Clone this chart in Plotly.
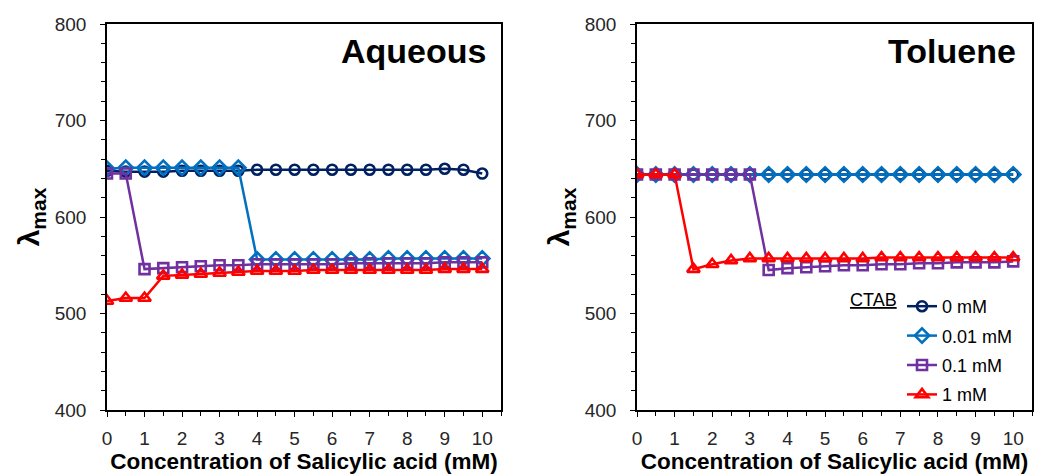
import plotly.graph_objects as go

x_conc = [i * 0.5 for i in range(21)]
series_names = ["0 mM", "0.01 mM", "0.1 mM", "1 mM"]

aq_0 = [648, 647, 647, 647, 648, 648, 648, 648, 649, 649, 649, 649, 649, 649, 649, 649, 649, 649, 650, 649, 645]
aq_001 = [650, 651, 651, 651, 651, 651, 651, 651, 556, 556, 556, 556, 556, 556, 556, 557, 557, 557, 557, 557, 557]
aq_01 = [645, 645, 546, 547, 548, 549, 550, 550, 551, 551, 551, 551, 551, 552, 552, 552, 552, 552, 553, 553, 553]
aq_1 = [513, 516, 516, 539, 540, 541, 542, 543, 544, 544, 544, 545, 545, 545, 545, 545, 545, 545, 546, 546, 546]

tol_0 = [644] * 21
tol_001 = [644, 644, 644, 644, 644, 644, 644, 644, 644, 644, 644, 644, 644, 644, 644, 644, 644, 644, 644, 644, 644]
tol_01 = [644, 644, 644, 644, 644, 644, 644, 545, 547, 548, 549, 550, 550, 551, 551, 552, 552, 553, 553, 553, 554]
tol_1 = [644, 644, 644, 546, 551, 555, 557, 557, 557, 557, 557, 557, 557, 558, 558, 558, 558, 558, 558, 558, 558]

colors = ["#002060", "#0070C0", "#7030A0", "#FF0000"]
symbols = ["circle-open", "diamond-open", "square-open", "triangle-up-open"]
sizes = [10, 11, 10, 11]

fig = go.Figure()
panels = [
    ([aq_0, aq_001, aq_01, aq_1], "x", "y", False),
    ([tol_0, tol_001, tol_01, tol_1], "x2", "y2", True),
]
for data, xa, ya, show in panels:
    for i, (name, ys) in enumerate(zip(series_names, data)):
        fig.add_trace(go.Scatter(
            x=x_conc, y=ys, name=name, mode="lines+markers",
            xaxis=xa, yaxis=ya, showlegend=show, legendgroup=name,
            line=dict(color=colors[i], width=2.5),
            marker=dict(symbol=symbols[i], size=sizes[i], color=colors[i],
                        line=dict(color=colors[i], width=2.6)),
        ))

tickfont = dict(family="Liberation Sans, Arial", size=19, color="#262626")
titlefont = dict(family="Liberation Sans, Arial", size=22.5, color="#000000")

def xax(domain, anchor):
    return dict(domain=domain, anchor=anchor, range=[0, 10.5], dtick=1, tick0=0,
                ticks="outside", ticklen=5, tickwidth=1.2, tickcolor="#000",
                minor=dict(dtick=0.5, ticks="outside", ticklen=4, tickwidth=1.2, tickcolor="#000"),
                showline=True, linecolor="#000", linewidth=1.5, mirror=True, automargin=False,
                showgrid=False, zeroline=False, tickfont=tickfont, ticklabelstandoff=5,
                title=dict(text="<b>Concentration of Salicylic acid (mM)</b>", font=titlefont, standoff=6))

def yax(domain, anchor):
    return dict(domain=domain, anchor=anchor, range=[400, 800], dtick=100,
                ticks="outside", ticklen=5, tickwidth=1.2, tickcolor="#000",
                minor=dict(dtick=20, ticks="outside", ticklen=4, tickwidth=1.2, tickcolor="#000"),
                showline=True, linecolor="#000", linewidth=1.5, mirror=True, automargin=False,
                showgrid=False, zeroline=False, tickfont=tickfont, ticklabelstandoff=10,
                title=dict(text="<b>λ<sub>max</sub></b>", font=dict(family="Liberation Sans, Arial", size=30, color="#000"), standoff=6))

ydom = [64 / 474, 450 / 474]
fig.update_layout(
    width=1040, height=474,
    margin=dict(l=0, r=0, t=0, b=0),
    paper_bgcolor="white", plot_bgcolor="white",
    xaxis=xax([107 / 1040, 501 / 1040], "y"),
    yaxis=yax(ydom, "x"),
    xaxis2=xax([637 / 1040, 1032 / 1040], "y2"),
    yaxis2=yax(ydom, "x2"),
    legend=dict(x=902 / 1040, y=1 - 288 / 474, xanchor="left", yanchor="top",
                font=dict(family="Liberation Sans, Arial", size=18, color="#000"),
                bgcolor="rgba(0,0,0,0)", traceorder="grouped", tracegroupgap=3,
                itemwidth=30),
    annotations=[
        dict(text="<b>Aqueous</b>", x=488 / 1040, y=1 - 30 / 474, xref="paper", yref="paper",
             xanchor="right", yanchor="top", showarrow=False,
             font=dict(family="Liberation Sans, Arial", size=34, color="#000")),
        dict(text="<b>Toluene</b>", x=1018 / 1040, y=1 - 30 / 474, xref="paper", yref="paper",
             xanchor="right", yanchor="top", showarrow=False,
             font=dict(family="Liberation Sans, Arial", size=34, color="#000")),
        dict(text="<u>CTAB</u>", x=899 / 1040, y=1 - 300 / 474, xref="paper", yref="paper",
             xanchor="right", yanchor="middle", showarrow=False,
             font=dict(family="Liberation Sans, Arial", size=18, color="#000")),
    ],
)

fig.write_html("out.html")
